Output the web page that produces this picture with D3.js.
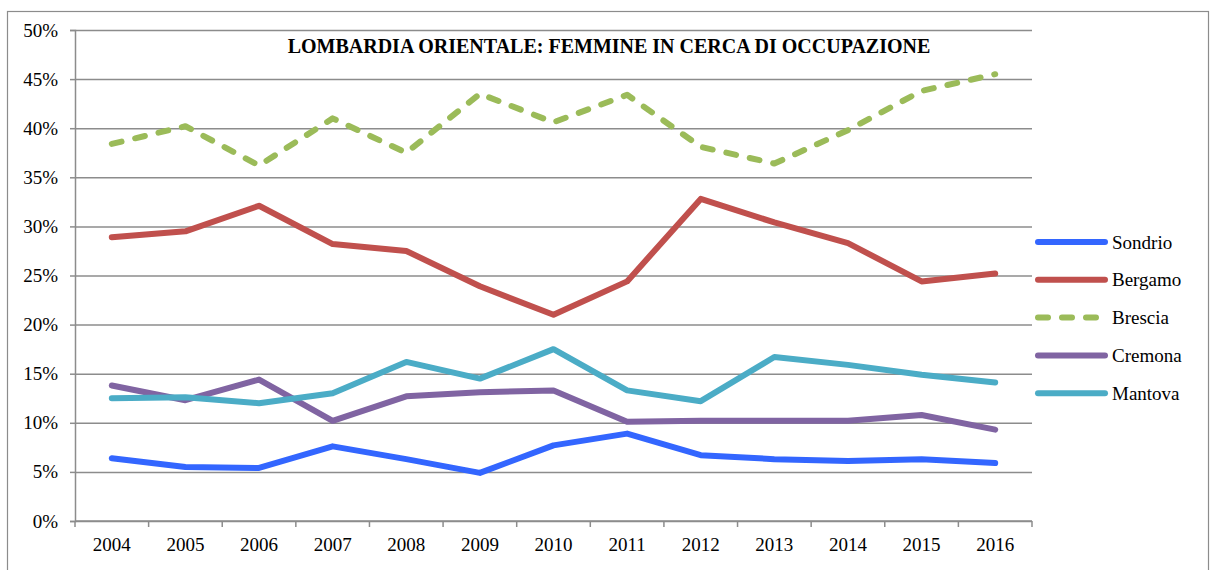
<!DOCTYPE html>
<html>
<head>
<meta charset="utf-8">
<script src="https://cdn.jsdelivr.net/npm/d3@7"></script>
<style>
  html, body { margin: 0; padding: 0; background: #fff; }
  svg { display: block; font-family: "Liberation Serif", "Times New Roman", serif; }
</style>
</head>
<body>
<svg id="chart" width="1210" height="570"></svg>
<script>
// Data
const years = ["2004", "2005", "2006", "2007", "2008", "2009", "2010", "2011", "2012", "2013", "2014", "2015", "2016"];
const sondrio = [6.4, 5.5, 5.4, 7.6, 6.3, 4.9, 7.7, 8.9, 6.7, 6.3, 6.1, 6.3, 5.9];
const bergamo = [28.9, 29.5, 32.1, 28.2, 27.5, 23.9, 21.0, 24.4, 32.8, 30.4, 28.3, 24.4, 25.2];
const brescia = [38.4, 40.2, 36.2, 41.0, 37.5, 43.5, 40.6, 43.4, 38.1, 36.4, 39.8, 43.8, 45.5];
const cremona = [13.8, 12.3, 14.4, 10.2, 12.7, 13.1, 13.3, 10.1, 10.2, 10.2, 10.2, 10.8, 9.3];
const mantova = [12.5, 12.6, 12.0, 13.0, 16.2, 14.5, 17.5, 13.3, 12.2, 16.7, 15.9, 14.9, 14.1];
const yTicks = [0, 5, 10, 15, 20, 25, 30, 35, 40, 45, 50];

const series = [
  { name: "Sondrio", values: sondrio, color: "#3366ff", dash: null },
  { name: "Bergamo", values: bergamo, color: "#c0504d", dash: null },
  { name: "Brescia", values: brescia, color: "#9bbb59", dash: "10,14" },
  { name: "Cremona", values: cremona, color: "#8064a2", dash: null },
  { name: "Mantova", values: mantova, color: "#4bacc6", dash: null },
];

// Layout
const PLOT = { left: 75, right: 1032, top: 30, bottom: 521 };
const GRID = "#8c8c8c";

const svg = d3.select("#chart");

// outer frame
svg.append("rect")
  .attr("x", 7.5).attr("y", 11.5)
  .attr("width", 1201).attr("height", 580)
  .attr("fill", "#fff")
  .attr("stroke", GRID).attr("stroke-width", 1.2);

const x = d3.scaleBand().domain(years).range([PLOT.left, PLOT.right]);
const y = d3.scaleLinear().domain([0, 50]).range([PLOT.bottom, PLOT.top]);

// Grid
svg.append("g")
  .attr("transform", `translate(${PLOT.left},0)`)
  .call(d3.axisLeft(y).tickValues(yTicks).tickSize(-(PLOT.right - PLOT.left)).tickFormat(""))
  .call((g) => g.select(".domain").remove())
  .call((g) => g.selectAll(".tick line").attr("stroke", GRID).attr("stroke-width", 1.5));

// Y axis
const yAxis = svg.append("g")
  .attr("transform", `translate(${PLOT.left},0)`)
  .call(d3.axisLeft(y).tickValues(yTicks).tickSize(5).tickPadding(12).tickFormat((d) => d + "%"));
yAxis.select(".domain").attr("stroke", GRID).attr("stroke-width", 1.5);
yAxis.selectAll(".tick line").attr("stroke", GRID).attr("stroke-width", 1.5);
yAxis.selectAll(".tick text")
  .attr("font-size", 19).attr("fill", "#000")
  .attr("font-family", "Liberation Serif, serif");

// X axis (ticks on band boundaries)
const xAxis = svg.append("g")
  .attr("transform", `translate(0,${PLOT.bottom})`);
xAxis.append("line")
  .attr("x1", PLOT.left).attr("x2", PLOT.right)
  .attr("stroke", GRID).attr("stroke-width", 1.5);
const bounds = years.map((d) => x(d)).concat([PLOT.right]);
xAxis.selectAll(".xtick").data(bounds).enter().append("line")
  .attr("x1", (d) => d).attr("x2", (d) => d)
  .attr("y1", 0).attr("y2", 6)
  .attr("stroke", GRID).attr("stroke-width", 1.5);
xAxis.selectAll(".xlabel").data(years).enter().append("text")
  .attr("x", (d) => x(d) + x.bandwidth() / 2)
  .attr("y", 30)
  .attr("text-anchor", "middle")
  .attr("font-size", 19)
  .text((d) => d);

// Lines
const line = d3.line()
  .x((d, i) => x(years[i]) + x.bandwidth() / 2)
  .y((d) => y(d));

svg.append("g").selectAll("path").data(series).enter().append("path")
  .attr("d", (s) => line(s.values))
  .attr("fill", "none")
  .attr("stroke", (s) => s.color)
  .attr("stroke-width", 6)
  .attr("stroke-linecap", "round")
  .attr("stroke-linejoin", "round")
  .attr("stroke-dasharray", (s) => s.dash);

// Title
svg.append("text")
  .attr("x", 609).attr("y", 53)
  .attr("text-anchor", "middle")
  .attr("font-size", 20).attr("font-weight", "bold")
  .text("LOMBARDIA ORIENTALE: FEMMINE IN CERCA DI OCCUPAZIONE");

// Legend
const legend = svg.append("g").selectAll("g").data(series).enter().append("g")
  .attr("transform", (s, i) => `translate(1038,${242 + i * 37.8})`);
legend.append("line")
  .attr("x1", 0).attr("x2", 67)
  .attr("stroke", (s) => s.color)
  .attr("stroke-width", 6)
  .attr("stroke-linecap", "round")
  .attr("stroke-dasharray", (s) => s.dash);
legend.append("text")
  .attr("x", 74).attr("y", 6.5)
  .attr("font-size", 19)
  .text((s) => s.name);
</script>
</body>
</html>
